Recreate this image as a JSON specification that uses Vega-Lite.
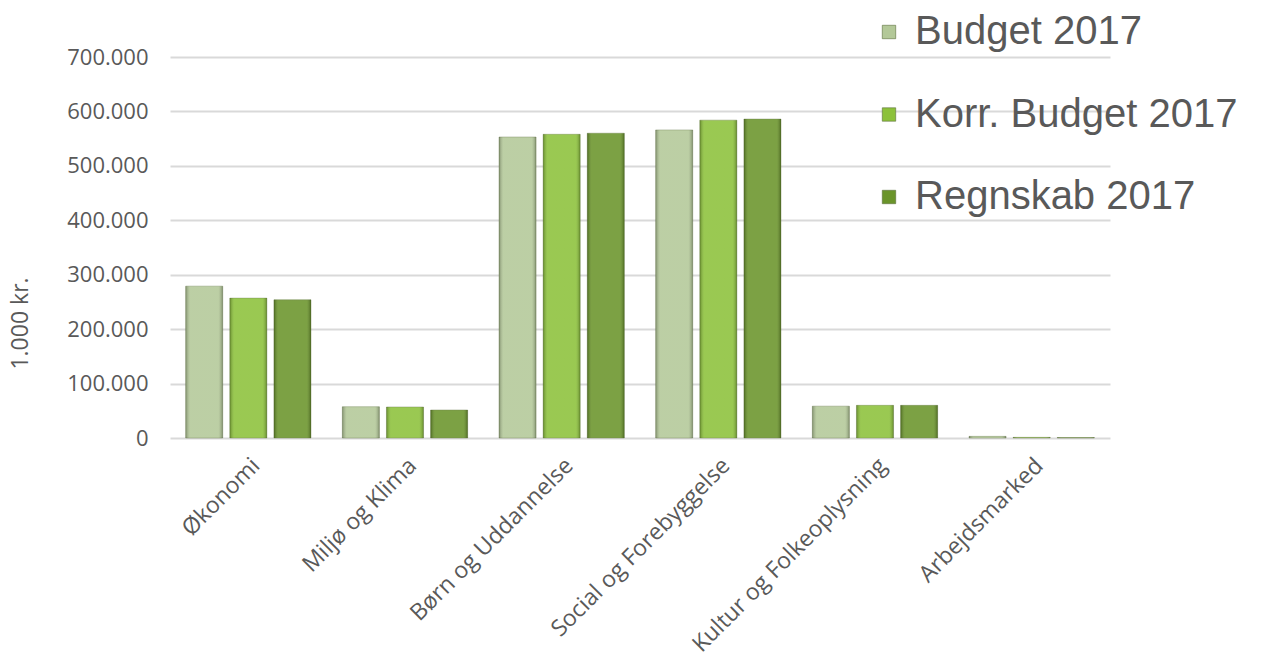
{
  "$schema": "https://vega.github.io/schema/vega-lite/v6.json",
  "autosize": "none",
  "width": 940,
  "height": 381,
  "padding": {"left": 170, "top": 57, "right": 160, "bottom": 224},
  "background": "white",
  "data": {
    "values": [
      {"omraade": "Økonomi", "serie": "Budget 2017", "beloeb": 279000},
      {"omraade": "Økonomi", "serie": "Korr. Budget 2017", "beloeb": 257000},
      {"omraade": "Økonomi", "serie": "Regnskab 2017", "beloeb": 254000},
      {"omraade": "Miljø og Klima", "serie": "Budget 2017", "beloeb": 57500},
      {"omraade": "Miljø og Klima", "serie": "Korr. Budget 2017", "beloeb": 57000},
      {"omraade": "Miljø og Klima", "serie": "Regnskab 2017", "beloeb": 51500},
      {"omraade": "Børn og Uddannelse", "serie": "Budget 2017", "beloeb": 553000},
      {"omraade": "Børn og Uddannelse", "serie": "Korr. Budget 2017", "beloeb": 558000},
      {"omraade": "Børn og Uddannelse", "serie": "Regnskab 2017", "beloeb": 560000},
      {"omraade": "Social og Forebyggelse", "serie": "Budget 2017", "beloeb": 566000},
      {"omraade": "Social og Forebyggelse", "serie": "Korr. Budget 2017", "beloeb": 584000},
      {"omraade": "Social og Forebyggelse", "serie": "Regnskab 2017", "beloeb": 586000},
      {"omraade": "Kultur og Folkeoplysning", "serie": "Budget 2017", "beloeb": 58500},
      {"omraade": "Kultur og Folkeoplysning", "serie": "Korr. Budget 2017", "beloeb": 60000},
      {"omraade": "Kultur og Folkeoplysning", "serie": "Regnskab 2017", "beloeb": 60000},
      {"omraade": "Arbejdsmarked", "serie": "Budget 2017", "beloeb": 3000},
      {"omraade": "Arbejdsmarked", "serie": "Korr. Budget 2017", "beloeb": 1200},
      {"omraade": "Arbejdsmarked", "serie": "Regnskab 2017", "beloeb": 800}
    ]
  },
  "encoding": {
    "x": {
      "field": "omraade",
      "type": "nominal",
      "sort": null,
      "scale": {"paddingInner": 0.2, "paddingOuter": 0.1},
      "axis": {
        "title": null,
        "labelAngle": -45,
        "labelFont": "Open Sans",
        "labelFontSize": 23,
        "labelColor": "#595959",
        "labelLimit": 400,
        "ticks": false,
        "domain": false,
        "labelPadding": 16
      }
    },
    "xOffset": {
      "field": "serie",
      "type": "nominal",
      "scale": {"paddingInner": 0.16}
    },
    "y": {
      "field": "beloeb",
      "type": "quantitative",
      "scale": {"domain": [0, 700000], "nice": false},
      "axis": {
        "title": "1.000 kr.",
        "titleFont": "Open Sans",
        "titleFontSize": 23,
        "titleFontWeight": "normal",
        "titleColor": "#595959",
        "titleAngle": -90,
        "titleAlign": "center",
        "titleBaseline": "middle",
        "titleX": -150,
        "titleY": 266,
        "values": [0, 100000, 200000, 300000, 400000, 500000, 600000, 700000],
        "labelExpr": "datum.value == 0 ? '0' : replace(format(datum.value, ','), ',', '.')",
        "labelFont": "Open Sans",
        "labelFontSize": 22,
        "labelColor": "#595959",
        "labelPadding": 22,
        "ticks": false,
        "domain": false,
        "gridColor": "#d9d9d9",
        "gridWidth": 2
      }
    }
  },
  "layer": [
    {
      "mark": {"type": "bar", "stroke": "#5b6e3a", "strokeWidth": 0.6, "strokeOpacity": 0.6},
      "encoding": {
        "color": {
          "field": "serie",
          "type": "nominal",
          "scale": {
            "domain": ["Budget 2017", "Korr. Budget 2017", "Regnskab 2017"],
            "range": ["#b3c898", "#8cc13a", "#6a942a"]
          },
          "legend": {
            "title": null,
            "orient": "none",
            "legendX": 699,
            "legendY": -45,
            "symbolType": "square",
            "symbolSize": 180,
            "symbolStrokeColor": "#5b6e3a",
            "symbolStrokeWidth": 0.6,
            "labelFont": "Liberation Sans",
            "labelFontSize": 40,
            "labelColor": "#595959",
            "labelLimit": 500,
            "labelOffset": 6,
            "rowPadding": 42.5
          }
        }
      }
    },
    {
      "mark": {
        "type": "bar",
        "color": {
          "gradient": "linear",
          "x1": 0, "x2": 1, "y1": 0, "y2": 0,
          "stops": [
            {"offset": 0, "color": "rgba(0,0,0,0.28)"},
            {"offset": 0.12, "color": "rgba(255,255,255,0.12)"},
            {"offset": 0.88, "color": "rgba(255,255,255,0.12)"},
            {"offset": 1, "color": "rgba(0,0,0,0.28)"}
          ]
        }
      }
    }
  ],
  "config": {"view": {"stroke": null}}
}
